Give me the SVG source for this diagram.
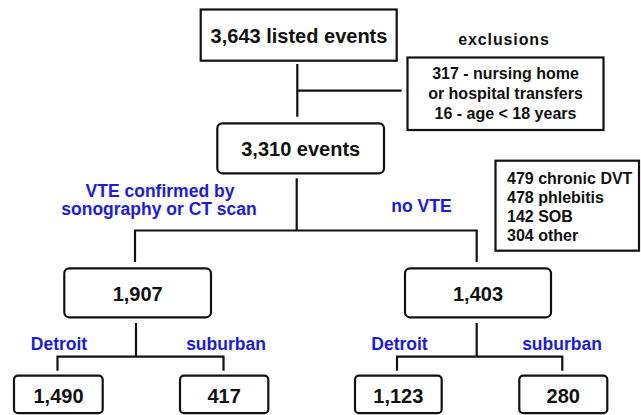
<svg xmlns="http://www.w3.org/2000/svg" width="641" height="415" viewBox="0 0 641 415">
<style>
.box{fill:#fff;stroke:#111;stroke-width:2.2}
.ln{fill:none;stroke:#111;stroke-width:2.2}
.t{font-family:"Liberation Sans",Arial,sans-serif;font-weight:bold;fill:#111;text-anchor:middle}
.big{font-size:20px}
.mid{font-size:16px}
.lab{font-family:"Liberation Sans",Arial,sans-serif;font-weight:bold;fill:#1a1ae6;font-size:17.5px;text-anchor:middle}
</style>
<rect width="641" height="415" fill="#fff"/>
<g id="connectors">
<path class="ln" d="M297.3,64 V116.7 M297.3,90.7 H401.7"/>
<path class="ln" d="M296.7,178.3 V230.5 M135,262 V230.5 H476.7 V262"/>
<path class="ln" d="M136,323 V356.7 M57.5,370.7 V356.7 H223.5 V370.7"/>
<path class="ln" d="M476.7,323 V356.7 M397,370.7 V356.7 H562.3 V370.7"/>
</g>
<g id="n-listed">
<rect class="box" x="200.7" y="9.5" width="196" height="51.2"/>
<text class="t big" x="299" y="42.5">3,643 listed events</text>
</g>
<g id="n-exclusions">
<text class="t mid" x="504" y="45" letter-spacing="0.9">exclusions</text>
<rect class="box" x="407.5" y="57.5" width="196" height="72.5"/>
<text class="t mid" x="505.5" y="79.3">317 - nursing home</text>
<text class="t mid" x="505.5" y="99.3">or hospital transfers</text>
<text class="t mid" x="505.5" y="118.5">16 - age &lt; 18 years</text>
</g>
<g id="n-3310">
<rect class="box" x="217.3" y="123.3" width="166.7" height="50" rx="5"/>
<text class="t big" x="300.7" y="156">3,310 events</text>
</g>
<g id="n-novte-reasons">
<rect class="box" x="495.5" y="160.7" width="143.5" height="90"/>
<text class="t mid" x="507" y="184.3" text-anchor="start" style="text-anchor:start">479 chronic DVT</text>
<text class="t mid" x="507" y="203.3" style="text-anchor:start">478 phlebitis</text>
<text class="t mid" x="507" y="222" style="text-anchor:start">142 SOB</text>
<text class="t mid" x="507" y="241" style="text-anchor:start">304 other</text>
</g>
<g id="labels">
<text class="lab" x="160" y="196.7">VTE confirmed by</text>
<text class="lab" x="159" y="215">sonography or CT scan</text>
<text class="lab" x="421.5" y="211.7" font-size="17px">no VTE</text>
<text class="lab" x="59" y="350">Detroit</text>
<text class="lab" x="226" y="350">suburban</text>
<text class="lab" x="399.5" y="350">Detroit</text>
<text class="lab" x="562" y="350">suburban</text>
</g>
<g id="n-1907">
<rect class="box" x="64.3" y="268.3" width="146.7" height="49" rx="5"/>
<text class="t big" x="137.7" y="301">1,907</text>
</g>
<g id="n-1403">
<rect class="box" x="405" y="268.3" width="146" height="49" rx="5"/>
<text class="t big" x="478" y="301">1,403</text>
</g>
<g id="n-1490">
<rect class="box" x="14" y="375.7" width="88.7" height="37.5" rx="4"/>
<text class="t big" x="58.5" y="402.5">1,490</text>
</g>
<g id="n-417">
<rect class="box" x="180" y="375.7" width="88.3" height="37.5" rx="4"/>
<text class="t big" x="224.2" y="402.5">417</text>
</g>
<g id="n-1123">
<rect class="box" x="355" y="375.7" width="86.7" height="37.5" rx="4"/>
<text class="t big" x="398.3" y="402.5">1,123</text>
</g>
<g id="n-280">
<rect class="box" x="519.3" y="375.7" width="88" height="37.5" rx="4"/>
<text class="t big" x="563.3" y="402.5">280</text>
</g>
</svg>
